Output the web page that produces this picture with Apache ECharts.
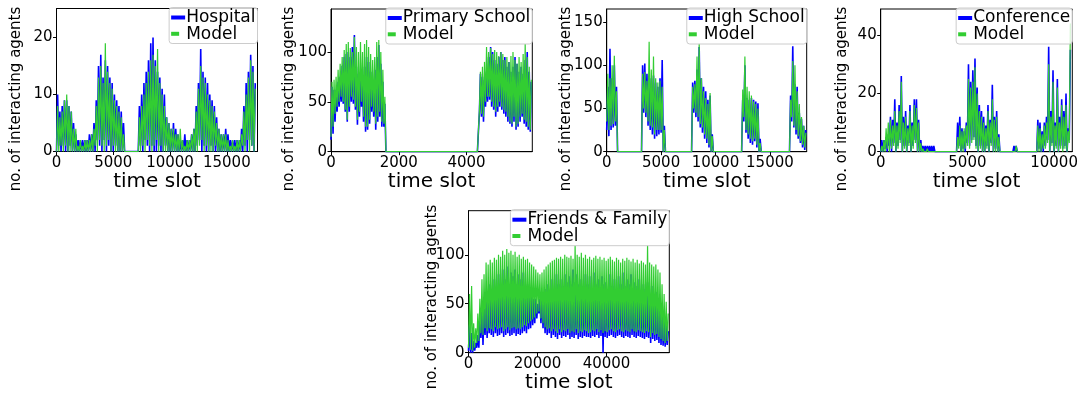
<!DOCTYPE html>
<html>
<head>
<meta charset="utf-8">
<style>
  html, body { margin: 0; padding: 0; background: #ffffff; }
  #chart { width: 1087px; height: 399px; }
</style>
<script src="https://cdn.jsdelivr.net/npm/echarts@6/dist/echarts.min.js"></script>
</head>
<body>
<div id="chart"></div>
<script>
// Number of interacting agents per time slot: observed contact data (blue)
// against the model (green). Each series is stored as per-bin max / min
// counts; a bin spans `step` time slots.

// ---- Hospital (bins of 200 slots) ----
const hospitalStep = 200;
const hospitalDataMax = [10,7,8,9,9,8,7,5,3, 2,2,2,2,2,3,3,5, 9,15,17,13,16,15,13,12,10,9,8,7, 5,0,0,0,0,0,0,
  8,10,12,14,16,19,20,16,14,13,11,10,6,5,4,5,4,3, 2,2,3,2,2,3,4, 8,12,18,14,13,12,10,9,8,6,4,3,3, 4,3,2,2,2,2,2, 4,8,12,14,17,15,12];
const hospitalDataMin = [0,1,0,1,0,0,1,0,0, 0,0,0,0,0,0,0,0, 0,2,1,0,2,0,1,0,0,1,0,0, 0,0,0,0,0,0,0,
  0,1,0,2,1,0,1,0,0,1,0,0,1,0,0,0,0,0, 0,0,0,0,0,0,0, 0,1,2,0,1,0,0,1,0,0,0,0,0, 0,0,0,0,0,0,0, 0,0,1,0,2,1,0];
const hospitalModelMax = [8,6,7,9,10,8,7,4,4, 1,2,1,2,2,2,3,4, 8,13,15,12,19,14,12,11,9,8,7,6, 3,0,0,0,0,0,0,
  6,8,10,12,14,16,17,15,18,12,10,8,6,5,4,4,3,3, 4,2,1,2,2,3,4, 7,11,15,13,12,10,9,8,7,5,4,3,3, 3,2,1,2,1,2,2, 3,7,10,13,16,14,11];
const hospitalModelMin = [0,0,1,0,1,0,0,0,0, 0,0,0,0,0,0,0,0, 1,0,2,1,0,1,2,0,1,0,0,0, 0,0,0,0,0,0,0,
  0,0,1,0,2,1,0,1,2,0,1,0,0,0,0,0,0,0, 0,0,0,0,0,0,0, 0,0,1,2,0,1,0,0,0,1,0,0,0, 0,0,0,0,0,0,0, 0,1,0,2,0,1,0];
const hospitalXTicks = [0, 5000, 10000, 15000];
const hospitalYTicks = [0, 10, 20];

// ---- Primary School (bins of 60 slots) ----
const primaryStep = 60;
const primaryDataMax = [65,62,62,70,75,86,95,98,100,95,105,117,85,78,80,72,85,95,90,80,72,82,95,107,88,70,48,
  0,0,0,0,0,0,0,0,0,0,0,0,0,0,0,0,0,0,0,0,0,0,0,0,0,0,0,0,0,0,0,0,0,0,0,0,0,0,0,0,0,0,0,0,0,0,
  78,75,72,80,95,105,100,92,88,95,100,92,95,85,90,80,85,95,88,80,85,78,92,100,80,70];
const primaryDataMin = [12,18,30,40,45,50,48,40,30,40,50,48,42,27,35,45,30,20,22,28,40,35,22,30,35,25,25,
  0,0,0,0,0,0,0,0,0,0,0,0,0,0,0,0,0,0,0,0,0,0,0,0,0,0,0,0,0,0,0,0,0,0,0,0,0,0,0,0,0,0,0,0,0,0,
  40,35,30,45,50,52,45,42,35,40,45,42,38,35,30,28,25,30,22,25,30,35,28,25,22,20];
const primaryModelMax = [70,72,75,82,88,95,102,108,110,104,100,115,105,100,110,100,108,112,105,98,92,95,110,112,100,82,55,
  0,0,0,0,0,0,0,0,0,0,0,0,0,0,0,0,0,0,0,0,0,0,0,0,0,0,0,0,0,0,0,0,0,0,0,0,0,0,0,0,0,0,0,0,0,0,
  80,85,90,105,100,104,98,102,100,96,100,98,92,95,90,96,100,92,88,95,90,98,108,95,85,72];
const primaryModelMin = [15,25,38,45,50,55,50,42,32,45,55,52,45,32,40,50,35,25,25,32,45,40,28,35,40,30,28,
  0,0,0,0,0,0,0,0,0,0,0,0,0,0,0,0,0,0,0,0,0,0,0,0,0,0,0,0,0,0,0,0,0,0,0,0,0,0,0,0,0,0,0,0,0,0,
  42,38,35,50,55,55,50,45,40,45,50,45,42,40,35,30,28,35,25,28,35,38,32,30,25,22];
const primaryXTicks = [0, 2000, 4000];
const primaryYTicks = [0, 50, 100];

// ---- High School (bins of 200 slots) ----
const highStep = 200;
const highDataMax = [75,119,85,100,75, 0,0,0,0,0,0,0,0,0,0,0,
  100,102,90,88,85,88,80,75,85,106,30, 0,0,0,0,0,0,0,0,0,0,0,0,
  80,82,95,121,85,75,70,60,65,20, 0,0,0,0,0,0,0,0,0,0,0,0,0,
  60,100,62,60,62,60,58,56,15, 0,0,0,0,0,0,0,0,0,0,0,0,0,
  65,122,78,75,45,38,30,25];
const highDataMin = [25,18,25,28,30, 0,0,0,0,0,0,0,0,0,0,0,
  0,45,40,30,25,20,15,18,20,22,0, 0,0,0,0,0,0,0,0,0,0,0,0,
  0,45,40,35,28,22,15,10,5,0, 0,0,0,0,0,0,0,0,0,0,0,0,0,
  0,35,22,15,10,8,12,5,0, 0,0,0,0,0,0,0,0,0,0,0,0,0,
  0,35,28,20,15,10,5,2];
const highModelMax = [90,85,100,111,70, 0,0,0,0,0,0,0,0,0,0,0,
  90,92,82,127,95,110,85,80,82,75,25, 0,0,0,0,0,0,0,0,0,0,0,0,
  75,78,110,125,85,70,62,55,68,18, 0,0,0,0,0,0,0,0,0,0,0,0,0,
  72,110,75,70,65,58,55,50,10, 0,0,0,0,0,0,0,0,0,0,0,0,0,
  60,105,100,70,55,40,30,22];
const highModelMin = [35,25,30,32,35, 0,0,0,0,0,0,0,0,0,0,0,
  0,50,45,35,30,28,20,25,25,25,0, 0,0,0,0,0,0,0,0,0,0,0,0,
  0,50,45,40,32,28,20,15,8,0, 0,0,0,0,0,0,0,0,0,0,0,0,0,
  0,40,25,20,15,12,15,8,0, 0,0,0,0,0,0,0,0,0,0,0,0,0,
  0,40,30,25,18,12,8,5];
const highXTicks = [0, 5000, 10000, 15000];
const highYTicks = [0, 50, 100, 150];

// ---- Conference (bins of 125 slots) ----
const conferenceStep = 125;
const conferenceDataMax = [4,4,5,6,12,11,18,10,16,26,12,14,9,16,10,18,18,11,4,2,2,2,2,2,2,
  0,0,0,0,0,0,0,0,0,0,
  10,12,8,7,10,30,24,28,32,22,16,14,12,9,16,11,23,12,14,6,
  0,0,0,0,0,0,2,2,0,0,0,0,0,0,0,0,0,
  11,10,7,10,12,36,14,28,10,25,12,18,14,20,8,35];
const conferenceDataMin = [0,0,1,0,2,0,3,0,2,4,0,2,0,3,0,2,4,0,0,0,0,0,0,0,0,
  0,0,0,0,0,0,0,0,0,0,
  0,2,0,1,0,3,2,4,5,2,0,2,0,0,2,0,3,0,1,0,
  0,0,0,0,0,0,0,0,0,0,0,0,0,0,0,0,0,
  0,1,0,0,2,4,0,3,0,2,0,2,1,2,0,4];
const conferenceModelMax = [2,4,8,10,11,9,14,9,14,24,10,12,8,14,9,16,15,10,3,1,0,1,0,0,0,
  0,0,0,0,0,0,0,0,0,0,
  5,9,7,8,9,25,22,24,29,20,14,12,10,8,14,10,18,11,12,5,
  0,0,0,0,0,0,0,2,0,0,0,0,0,0,0,0,0,
  9,8,6,9,10,30,12,24,9,22,10,16,12,16,7,44];
const conferenceModelMin = [0,0,0,1,0,1,2,0,1,3,0,1,0,2,0,1,3,0,0,0,0,0,0,0,0,
  0,0,0,0,0,0,0,0,0,0,
  0,1,0,0,1,2,1,3,4,1,0,1,0,0,1,0,2,0,0,0,
  0,0,0,0,0,0,0,0,0,0,0,0,0,0,0,0,0,
  0,0,0,1,1,3,0,2,0,1,0,1,0,1,0,3];
const conferenceXTicks = [0, 5000, 10000];
const conferenceYTicks = [0, 20, 40];

// ---- Friends & Family (bins of 600 slots) ----
const familyStep = 600;
const familyDataMax = [28,20,12,10,18,35,50,45,60,55,70,65,75,60,80,70,85,75,88,70,82,78,85,70,80,75,82,65,70,60,
  65,55,55,50,55,60,58,65,70,62,75,65,80,70,75,68,80,72,78,70,85,72,80,70,75,68,80,70,78,65,
  82,70,75,65,78,70,72,65,80,68,75,65,78,70,82,68,75,70,80,65,72,68,75,62,70,65,72,60,68,58,
  62,55,50,45,38,28,22];
const familyDataMin = [2,0,0,2,5,5,15,8,18,15,20,18,16,20,17,18,20,16,18,20,17,18,20,17,19,18,20,22,20,24,
  25,28,30,35,40,30,25,20,18,20,15,18,16,14,18,15,17,16,18,14,16,15,18,14,16,15,17,16,16,15,
  17,16,18,15,17,0,16,15,17,18,16,15,17,18,16,15,17,16,15,18,16,15,17,16,15,14,16,15,10,14,
  12,13,10,8,7,6,8];
const familyModelMax = [60,68,30,25,40,55,75,80,92,90,95,92,97,95,100,98,104,100,106,102,104,100,103,98,100,96,98,95,96,92,
  90,88,85,82,80,82,85,88,90,92,94,95,97,96,98,96,100,98,97,99,96,110,100,98,102,97,100,96,98,95,
  97,99,96,98,95,97,94,96,98,95,93,97,95,92,96,94,97,95,93,96,92,95,91,94,92,90,110,92,90,88,
  90,85,82,70,60,52,40];
const familyModelMin = [5,3,2,5,10,12,20,18,25,22,25,24,22,26,24,25,26,22,24,26,23,25,26,24,25,24,26,28,27,30,
  32,34,36,40,42,35,30,26,24,25,22,24,22,20,24,21,23,22,24,20,22,21,24,20,22,21,23,22,20,21,
  23,22,24,21,23,20,22,21,23,24,22,21,23,24,22,21,23,22,21,24,22,21,23,22,21,20,22,21,16,20,
  18,19,16,14,12,10,12];
const familyXTicks = [0, 20000, 40000];
const familyYTicks = [0, 50, 100];

// ---- shared styling ----
const FONT = '"DejaVu Sans", "Liberation Sans", sans-serif';
const DATA_COLOR = '#0000ff';
const MODEL_COLOR = '#32cd32';
const LEGEND_FONT_SIZE = 17;

// Turn per-bin max/min counts into a dense min-max trace.
function trace(step, lo, hi) {
  const pts = [];
  for (let k = 0; k < hi.length; k++) {
    pts.push([k * step, lo[k]]);
    pts.push([k * step + step / 2, hi[k]]);
  }
  return pts;
}

// Width of a legend label, used to right-align each legend box.
const measureCtx = document.createElement('canvas').getContext('2d');
measureCtx.font = LEGEND_FONT_SIZE + 'px ' + FONT;
const textWidth = s => measureCtx.measureText(s).width;

const panels = [
  { name: 'Hospital', step: hospitalStep, dMax: hospitalDataMax, dMin: hospitalDataMin,
    mMax: hospitalModelMax, mMin: hospitalModelMin, xTicks: hospitalXTicks, yTicks: hospitalYTicks,
    xMax: 17700, yMax: 25.1, box: [56.5, 8.5, 257.5, 151.5], yl: [16, 99] },
  { name: 'Primary School', step: primaryStep, dMax: primaryDataMax, dMin: primaryDataMin,
    mMax: primaryModelMax, mMin: primaryModelMin, xTicks: primaryXTicks, yTicks: primaryYTicks,
    xMax: 5940, yMax: 143, box: [331, 9, 532.3, 151.7], yl: [289, 99] },
  { name: 'High School', step: highStep, dMax: highDataMax, dMin: highDataMin,
    mMax: highModelMax, mMin: highModelMin, xTicks: highXTicks, yTicks: highYTicks,
    xMax: 18380, yMax: 165, box: [606.7, 9, 806.7, 151.7], yl: [566, 99] },
  { name: 'Conference', step: conferenceStep, dMax: conferenceDataMax, dMin: conferenceDataMin,
    mMax: conferenceModelMax, mMin: conferenceModelMin, xTicks: conferenceXTicks, yTicks: conferenceYTicks,
    xMax: 11050, yMax: 49, box: [880.7, 9, 1072.3, 151.7], yl: [842, 99] },
  { name: 'Friends & Family', step: familyStep, dMax: familyDataMax, dMin: familyDataMin,
    mMax: familyModelMax, mMin: familyModelMin, xTicks: familyXTicks, yTicks: familyYTicks,
    xMax: 58200, yMax: 145, box: [468.5, 210.7, 669.3, 352.7], yl: [432, 297] }
];

const grid = [], xAxis = [], yAxis = [], series = [], graphic = [];
const plain = v => String(v);

panels.forEach((p, i) => {
  const [l, t, r, b] = p.box;
  grid.push({ left: l, top: t, width: r - l, height: b - t, show: true,
    borderColor: '#000', borderWidth: 1, backgroundColor: 'transparent', containLabel: false });

  xAxis.push({
    type: 'value', gridIndex: i, min: 0, max: p.xMax,
    name: 'time slot', nameLocation: 'middle', nameGap: 20,
    nameTextStyle: { fontSize: 20, fontFamily: FONT, color: '#000' },
    axisLine: { show: true, onZero: false, lineStyle: { color: '#000', width: 1 } },
    axisTick: { show: true, length: 3.5, inside: false, customValues: p.xTicks,
      lineStyle: { color: '#000', width: 1 } },
    axisLabel: { fontSize: 15, fontFamily: FONT, color: '#000', margin: 4,
      customValues: p.xTicks, formatter: plain },
    splitLine: { show: false }
  });

  yAxis.push({
    type: 'value', gridIndex: i, min: 0, max: p.yMax,
    axisLine: { show: true, onZero: false, lineStyle: { color: '#000', width: 1 } },
    axisTick: { show: true, length: 3.5, inside: false, customValues: p.yTicks,
      lineStyle: { color: '#000', width: 1 } },
    axisLabel: { fontSize: 15, fontFamily: FONT, color: '#000', margin: 4,
      customValues: p.yTicks, formatter: plain },
    splitLine: { show: false }
  });

  series.push({
    name: p.name, type: 'line', xAxisIndex: i, yAxisIndex: i,
    data: trace(p.step, p.dMin, p.dMax),
    showSymbol: false, symbol: 'none', animation: false,
    lineStyle: { color: DATA_COLOR, width: 1.6 }, itemStyle: { color: DATA_COLOR }, z: 2
  });
  series.push({
    name: 'Model', type: 'line', xAxisIndex: i, yAxisIndex: i,
    data: trace(p.step, p.mMin, p.mMax),
    showSymbol: false, symbol: 'none', animation: false,
    lineStyle: { color: MODEL_COLOR, width: 1.2 }, itemStyle: { color: MODEL_COLOR }, z: 3
  });

  // legend box in the upper-right corner of each panel
  const wMax = Math.max(textWidth(p.name), textWidth('Model'));
  const textX = r - 2 - wMax;
  const handleX = textX - 15;
  const boxX = handleX - 2;
  const boxY = t - 1;
  graphic.push({
    type: 'rect', z: 100,
    shape: { x: boxX, y: boxY, width: r - boxX, height: 36, r: 3 },
    style: { fill: 'rgba(255,255,255,0.8)', stroke: '#cccccc', lineWidth: 1 }
  });
  graphic.push({
    type: 'line', z: 101,
    shape: { x1: handleX, y1: t + 9, x2: handleX + 14, y2: t + 9 },
    style: { stroke: DATA_COLOR, lineWidth: 4 }
  });
  graphic.push({
    type: 'line', z: 101,
    shape: { x1: handleX, y1: t + 25.3, x2: handleX + 8, y2: t + 25.3 },
    style: { stroke: MODEL_COLOR, lineWidth: 4 }
  });
  [[p.name, t + 9], ['Model', t + 25.7]].forEach(([txt, y]) => {
    graphic.push({
      type: 'text', z: 101, x: textX, y: y,
      style: { text: txt, fontSize: LEGEND_FONT_SIZE, fontFamily: FONT, fill: '#000',
        textAlign: 'left', textVerticalAlign: 'middle', align: 'left', verticalAlign: 'middle' }
    });
  });

  graphic.push({
    type: 'text', x: p.yl[0], y: p.yl[1], rotation: Math.PI / 2,
    style: { text: 'no. of interacting agents', fontSize: 15, fontFamily: FONT, fill: '#000',
      textAlign: 'center', textVerticalAlign: 'middle', align: 'center', verticalAlign: 'middle' }
  });
});

const chart = echarts.init(document.getElementById('chart'), null, { renderer: 'canvas' });
chart.setOption({
  backgroundColor: '#ffffff',
  animation: false,
  grid, xAxis, yAxis, series, graphic
});
</script>
</body>
</html>
